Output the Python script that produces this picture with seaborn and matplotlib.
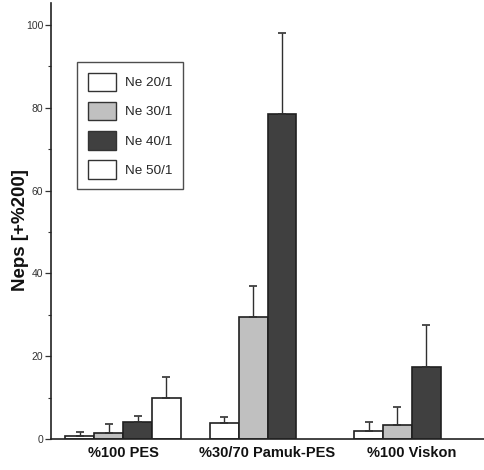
import numpy as np
import pandas as pd
import matplotlib
matplotlib.use("Agg")
import matplotlib.pyplot as plt
import seaborn as sns
from matplotlib.patches import Patch
from matplotlib.ticker import MultipleLocator, FixedLocator

# ---- data ----
categories = ["%100 PES", "%30/70 Pamuk-PES", "%100 Viskon"]
series = ["Ne 20/1", "Ne 30/1", "Ne 40/1", "Ne 50/1"]
ne20 = [0.7, 3.9, 1.9]
ne30 = [1.5, 29.5, 3.5]
ne40 = [4.0, 78.4, 17.5]
ne50 = [10.0, np.nan, np.nan]
ne20_err = [0.9, 1.4, 2.2]
ne30_err = [2.2, 7.5, 4.3]
ne40_err = [1.5, 19.6, 10.0]
ne50_err = [5.0, np.nan, np.nan]
yticks = [0, 20, 40, 60, 80, 100]

colors = {"Ne 20/1": "#ffffff", "Ne 30/1": "#c0c0c0",
          "Ne 40/1": "#404040", "Ne 50/1": "#ffffff"}

vals = [ne20, ne30, ne40, ne50]
errs = [ne20_err, ne30_err, ne40_err, ne50_err]
rows = []
for s, v, e in zip(series, vals, errs):
    for c, vv, ee in zip(categories, v, e):
        if not np.isnan(vv):
            rows.append({"cat": c, "series": s, "value": vv, "err": ee})
df = pd.DataFrame(rows)

sns.set_style("white")
narrow = ["Liberation Sans Narrow", "Liberation Sans", "DejaVu Sans"]
plt.rcParams["font.family"] = ["Liberation Sans", "DejaVu Sans"]

fig = plt.figure(figsize=(4.84, 4.70), dpi=100)
ax = fig.add_axes([51 / 484, 31 / 470, 433 / 484, 436 / 470])

sns.barplot(data=df, x="cat", y="value", hue="series", order=categories,
            hue_order=series, palette=colors, errorbar=None, width=0.8,
            edgecolor="#202020", linewidth=1.2, saturation=1, ax=ax,
            legend=False)

# error bars (upper only)
errmap = {(r.series, r.cat): r.err for r in df.itertuples()}
for s, cont in zip(series, ax.containers):
    for bar in cont:
        h = bar.get_height()
        if np.isnan(h):
            continue
        xc = bar.get_x() + bar.get_width() / 2
        ci = int(round(xc))
        e = errmap.get((s, categories[ci]))
        if e is None or np.isnan(e):
            continue
        ax.errorbar([xc], [h], yerr=[[0], [e]], fmt="none", ecolor="#303030",
                    elinewidth=1.0, capsize=2.6, capthick=1.2, zorder=1)

ax.set_xlim(-0.5, 2.5)
ax.set_ylim(0, 105.3)
ax.set_yticks(yticks)
ax.yaxis.set_minor_locator(MultipleLocator(10))
ax.set_yticklabels([str(t) for t in yticks], family=narrow, fontsize=7.5,
                   color="#333333")
ax.xaxis.set_minor_locator(FixedLocator([0.5, 1.5]))
ax.tick_params(axis="x", which="major", length=0, pad=5)
ax.tick_params(axis="x", which="minor", length=5, direction="inout",
               width=0.8, color="#333333")
ax.tick_params(axis="y", which="major", length=4, width=0.9, color="#333333",
               left=True, pad=1.5)
ax.tick_params(axis="y", which="minor", length=2.5, width=0.8,
               color="#333333", left=True)
for lab in ax.get_xticklabels():
    lab.set_family(narrow)
    lab.set_fontweight("bold")
    lab.set_fontsize(10.5)
    lab.set_color("#111111")

for sp in ["top", "right"]:
    ax.spines[sp].set_visible(False)
for sp in ["left", "bottom"]:
    ax.spines[sp].set_color("#222222")
    ax.spines[sp].set_linewidth(1.2)

ax.set_xlabel("")
ax.set_ylabel("")
fig.text(21 / 484, 1 - 230 / 470, "Neps [+%200]", rotation=90,
         ha="center", va="center", fontsize=13.5, fontweight="bold",
         color="#111111")

handles = [Patch(facecolor=colors[s], edgecolor="#333333", linewidth=1.0,
                 label=s) for s in series]
leg = ax.legend(handles=handles, loc="upper left",
                bbox_to_anchor=(0.06, 0.865), borderaxespad=0,
                prop={"family": narrow, "size": 9.7}, frameon=True,
                fancybox=False, edgecolor="#222222", handlelength=2.07,
                handleheight=1.75, labelspacing=0.78, handletextpad=0.67,
                borderpad=0.8)
leg.get_frame().set_linewidth(1.0)

fig.savefig("out.png", dpi=100)
